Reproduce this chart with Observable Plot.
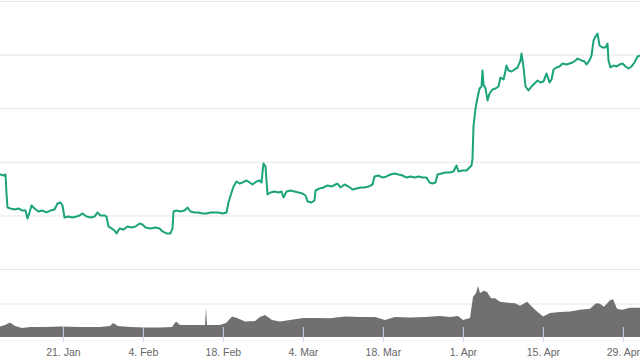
<!DOCTYPE html>
<html><head><meta charset="utf-8">
<script src="https://cdn.jsdelivr.net/npm/d3@7"></script>
<script src="https://cdn.jsdelivr.net/npm/@observablehq/plot@0.6"></script>
<style>
html,body{margin:0;padding:0;background:#fff;}
#chart svg{display:block;}
</style></head><body><div id="chart"></div>
<script>
// days since 2019-01-01 (UTC), fractional
const priceDay = [9.00,9.53,9.88,10.05,10.23,10.75,11.45,12.15,12.85,13.38,13.73,14.08,14.43,14.95,15.65,16.35,17.05,17.75,18.45,18.98,19.50,19.85,20.20,20.90,21.60,22.30,22.83,23.35,24.05,24.75,25.45,25.98,26.50,27.20,27.55,27.90,28.43,28.95,29.30,29.83,30.53,31.23,31.93,32.63,33.33,33.85,34.38,35.25,36.13,36.83,37.35,38.05,38.75,39.10,39.28,39.80,40.50,41.20,41.73,42.25,42.95,43.65,44.35,45.05,45.75,46.45,47.15,47.85,48.55,48.90,49.43,49.78,50.30,50.83,51.35,52.05,52.58,53.10,53.80,54.33,54.68,54.85,55.03,55.38,55.55,55.73,56.25,56.95,57.65,58.18,58.53,59.05,59.75,60.45,61.15,61.85,62.38,62.73,63.43,63.95,64.13,64.83,65.53,66.23,66.93,67.63,67.98,68.50,69.20,69.90,70.60,71.30,72.00,72.70,73.40,74.10,74.45,75.15,75.85,76.55,77.25,77.95,78.65,79.35,80.05,80.75,81.45,82.15,82.85,83.55,84.08,84.60,85.13,85.48,86.18,86.88,87.58,88.28,88.80,89.15,89.85,90.55,91.08,91.43,91.60,91.78,92.13,92.48,92.83,93.18,93.35,93.53,93.88,94.23,94.58,95.10,95.63,96.15,96.50,97.03,97.38,97.55,97.90,98.43,98.95,99.48,100.00,100.18,100.53,100.88,101.40,101.93,102.45,102.98,103.50,104.03,104.55,105.08,105.43,105.78,106.30,106.83,107.35,108.05,108.58,109.10,109.63,109.98,110.68,111.20,111.55,112.08,112.43,112.78,113.13,113.48,113.83,114.35,114.88,115.23,115.40,115.75,116.28,116.80,117.33,117.85,118.38,118.90,119.43,119.95,120.48,121.00];
const price = [3886,3877,3886,3709,3578,3569,3560,3569,3550,3550,3476,3532,3597,3569,3541,3550,3532,3550,3560,3616,3625,3597,3485,3494,3485,3494,3504,3523,3494,3485,3494,3532,3504,3504,3494,3401,3383,3364,3336,3383,3373,3401,3392,3401,3429,3420,3392,3383,3392,3383,3355,3336,3336,3383,3541,3550,3541,3550,3578,3541,3532,3532,3523,3523,3532,3532,3532,3523,3532,3625,3718,3774,3821,3802,3812,3830,3812,3793,3821,3830,3812,3905,3989,3961,3830,3700,3718,3728,3718,3728,3672,3728,3737,3728,3718,3709,3690,3634,3625,3644,3737,3756,3765,3784,3774,3793,3802,3765,3793,3774,3746,3756,3765,3765,3774,3793,3868,3877,3858,3868,3886,3896,3886,3877,3858,3868,3858,3868,3858,3858,3812,3802,3812,3886,3896,3905,3905,3914,3970,3914,3924,3924,3952,3970,4035,4343,4502,4604,4688,4707,4856,4726,4688,4577,4642,4679,4688,4707,4791,4772,4856,4903,4856,4847,4866,4884,4950,5015,4884,4707,4670,4707,4735,4763,4744,4754,4828,4744,4772,4866,4884,4894,4922,4912,4922,4931,4950,4968,4950,4940,4912,4950,4996,5136,5174,5201,5090,5071,5071,5108,4950,4884,4903,4894,4912,4922,4894,4875,4894,4931,4987,4996];

const volumeDay = [9.00,9.88,10.75,11.63,12.85,14.25,16.88,19.50,23.00,26.50,28.25,28.78,29.65,31.75,34.38,37.00,39.10,39.80,40.50,43.13,44.88,45.05,45.23,47.50,48.55,49.60,50.48,51.88,53.63,54.50,55.38,56.60,58.00,59.75,62.03,64.13,66.75,69.38,72.00,74.63,76.38,78.13,80.75,83.38,86.00,87.75,89.15,90.03,91.25,91.78,92.30,92.65,93.00,93.70,94.23,94.93,95.63,96.50,97.90,99.13,100.00,101.23,102.63,104.03,105.25,107.00,108.75,110.50,112.25,113.30,114.00,114.70,115.75,116.28,116.98,117.85,119.25,121.00];
const volume = [3.1,3.6,4.3,3.3,2.7,3.0,3.0,3.1,3.0,3.0,3.3,4.2,3.3,3.0,2.8,2.8,3.0,4.6,3.6,3.6,3.6,8.7,3.6,3.6,4.2,6.1,5.7,4.6,4.8,6.0,6.6,5.1,4.6,5.1,5.7,5.7,5.6,6.1,6.0,6.0,5.1,6.0,5.8,6.0,6.3,6.0,6.3,5.1,5.7,12.0,13.1,15.2,13.1,13.8,13.4,11.6,11.6,10.5,10.2,10.1,9.3,10.5,8.1,6.1,7.2,7.5,7.6,8.1,8.4,10.1,9.9,9.0,11.0,11.3,8.4,8.1,8.7,8.7];

const dateRange = [9, 121];
const tickDates = ["2019-01-21","2019-02-04","2019-02-18","2019-03-04","2019-03-18","2019-04-01","2019-04-15","2019-04-29"];
const tickLabels = ["21. Jan","4. Feb","18. Feb","4. Mar","18. Mar","1. Apr","15. Apr","29. Apr"];
const priceGrid = [3000,3500,4000,4500,5000,5500];
const priceDomain = [3000,5500];
const volumeGrid = [10];
const volumeDomain = [0,20];

const YEAR_START = Date.UTC(2019,0,1);
const toDate = d => new Date(YEAR_START + d * 864e5);
const priceData = priceDay.map((d,i) => ({date: toDate(d), price: price[i]}));
const volumeData = volumeDay.map((d,i) => ({date: toDate(d), volume: volume[i]}));
const xDomain = dateRange.map(toDate);
const ticks = tickDates.map(s => new Date(s + "T00:00:00Z"));
const labelOf = new Map(ticks.map((t,i) => [+t, tickLabels[i]]));

const font = "'Liberation Sans', Arial, sans-serif";

const pricePlot = Plot.plot({
  width: 640, height: 270,
  marginTop: 1, marginBottom: 1, marginLeft: 0, marginRight: 0,
  style: {background: "#fff", fontFamily: font},
  x: {type: "utc", domain: xDomain, axis: null},
  y: {domain: priceDomain, axis: null},
  marks: [
    Plot.ruleY(priceGrid, {stroke: "#e6e6e6", strokeOpacity: 1}),
    Plot.lineY(priceData, {x: "date", y: "price", stroke: "#1ba37b", strokeWidth: 2})
  ]
});

const volumePlot = Plot.plot({
  width: 640, height: 90,
  marginTop: 0, marginBottom: 23, marginLeft: 0, marginRight: 0,
  style: {background: "#fff", fontFamily: font, fontSize: "10.5px", color: "#666"},
  x: {type: "utc", domain: xDomain, axis: null},
  y: {domain: volumeDomain, axis: null},
  marks: [
    Plot.ruleY(volumeGrid, {stroke: "#e6e6e6", strokeOpacity: 1}),
    Plot.areaY(volumeData, {x: "date", y: "volume", fill: "#707070"}),
    Plot.axisX(ticks, {tickSize: 15, dy: -10, tickFormat: () => "", stroke: "#ccd6eb", strokeOpacity: 1, label: null}),
    Plot.axisX(ticks, {tickSize: 0, tickPadding: 11, tickFormat: d => labelOf.get(+d), fill: "#666", label: null})
  ]
});

const root = document.getElementById("chart");
root.appendChild(pricePlot);
root.appendChild(volumePlot);
</script>
</body></html>
